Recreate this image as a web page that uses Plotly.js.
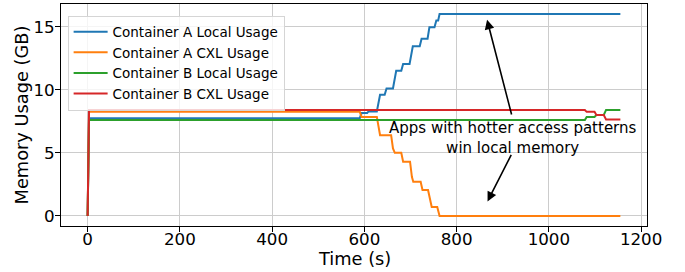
<!DOCTYPE html>
<html>
<head>
<meta charset="utf-8">
<script src="https://cdn.plot.ly/plotly-3.0.1.min.js"></script>
<style>html,body{margin:0;padding:0;background:#fff;}</style>
</head>
<body>
<div id="chart" style="width:685px;height:272px;"></div>
<script>
// Container A local usage (GB) vs time (s)
const tALocal = [0, 3, 590, 594, 606, 609, 627, 631, 634, 644, 648, 662, 666, 669, 680, 684, 698, 702, 705, 720, 724, 737, 741, 752, 756, 760, 763, 1155];
const vALocal = [0, 7.75, 7.75, 8.15, 8.15, 8.28, 8.28, 9.25, 9.6, 9.6, 10.1, 10.1, 11.1, 11.5, 11.5, 12.05, 12.05, 13.0, 13.45, 13.45, 14.05, 14.05, 14.95, 14.95, 15.5, 15.5, 16.0, 16.0];
// Container A CXL usage
const tACxl = [0, 3, 590, 594, 627, 631, 634, 658, 662, 666, 680, 684, 699, 703, 706, 722, 726, 738, 742, 746, 758, 763, 1155];
const vACxl = [0, 8.25, 8.25, 7.85, 7.85, 6.8, 6.4, 6.4, 5.35, 5.0, 5.0, 4.3, 4.3, 3.1, 2.7, 2.7, 2.05, 2.05, 1.25, 0.7, 0.7, 0.0, 0.0];
// Container B local usage
const tBLocal = [0, 3, 1078, 1082, 1099, 1103, 1119, 1124, 1155];
const vBLocal = [0, 7.6, 7.6, 7.85, 7.85, 8.0, 8.0, 8.4, 8.4];
// Container B CXL usage
const tBCxl = [0, 3, 1078, 1082, 1099, 1103, 1119, 1124, 1155];
const vBCxl = [0, 8.4, 8.4, 8.25, 8.25, 8.0, 8.0, 7.65, 7.65];

const seriesNames = ["Container A Local Usage", "Container A CXL Usage", "Container B Local Usage", "Container B CXL Usage"];
const seriesColors = ["#1f77b4", "#ff7f0e", "#2ca02c", "#d62728"];
const xTicks = [0, 200, 400, 600, 800, 1000, 1200];
const yTicks = [0, 5, 10, 15];
const xTitle = "Time (s)";
const yTitle = "Memory Usage (GB)";

const annText = "Apps with hotter access patterns<br>win local memory";
const annTextPos = [922, 6.2];
const arrowTips = [[866, 15.55], [867, 1.15]];
const arrowTails = [[920, 7.92], [920, 4.96]];

const FONT = "DejaVu Sans, Liberation Sans, sans-serif";
const xs = [tALocal, tACxl, tBLocal, tBCxl];
const ys = [vALocal, vACxl, vBLocal, vBCxl];

const data = xs.map((x, i) => ({
  x: x, y: ys[i], type: "scatter", mode: "lines",
  name: seriesNames[i],
  line: {color: seriesColors[i], width: 2}
}));

const annotations = [{
  x: annTextPos[0], y: annTextPos[1], xref: "x", yref: "y",
  text: annText, showarrow: false,
  font: {family: FONT, size: 15, color: "#000"},
  xanchor: "center", yanchor: "middle", align: "center"
}, {
  x: 0.5, y: -0.148, xref: "paper", yref: "paper",
  text: xTitle, showarrow: false,
  font: {family: FONT, size: 17.8, color: "#000"},
  xanchor: "center", yanchor: "middle"
}];
arrowTips.forEach((tip, i) => {
  annotations.push({
    x: tip[0], y: tip[1], xref: "x", yref: "y",
    ax: arrowTails[i][0], ay: arrowTails[i][1], axref: "x", ayref: "y",
    text: "", showarrow: true, arrowhead: 2, arrowsize: 1.2, arrowwidth: 1.6, arrowcolor: "#000"
  });
});

const layout = {
  width: 685, height: 272,
  margin: {l: 61, r: 38, t: 4, b: 46, pad: 0},
  paper_bgcolor: "#fff", plot_bgcolor: "#fff",
  font: {family: FONT, size: 16.7, color: "#000"},
  showlegend: true,
  legend: {
    x: 0.0113, y: 0.948, xanchor: "left", yanchor: "top",
    bgcolor: "rgba(255,255,255,0.8)", bordercolor: "#d5d5d5", borderwidth: 1,
    font: {family: FONT, size: 13.5, color: "#000"},
    itemwidth: 34,
    tracegroupgap: 0
  },
  xaxis: {
    range: [-57.75, 1212.75],
    tickvals: xTicks, ticktext: xTicks.map(String),
    showgrid: true, gridcolor: "#cccccc", gridwidth: 1,
    zeroline: false,
    showline: true, mirror: true, linecolor: "#000", linewidth: 1,
    ticks: "outside", ticklen: 5, tickcolor: "#000", tickwidth: 1,
    ticklabelstandoff: -7,
    tickfont: {family: FONT, size: 16.7, color: "#000"}
  },
  yaxis: {
    range: [-0.8, 16.8],
    tickvals: yTicks, ticktext: yTicks.map(String),
    showgrid: true, gridcolor: "#cccccc", gridwidth: 1,
    zeroline: false,
    showline: true, mirror: true, linecolor: "#000", linewidth: 1,
    ticks: "outside", ticklen: 5, tickcolor: "#000", tickwidth: 1,
    ticklabelstandoff: -3,
    tickfont: {family: FONT, size: 16.7, color: "#000"},
    title: {text: yTitle, font: {family: FONT, size: 17.8, color: "#000"}, standoff: 0}
  },
  annotations: annotations
};

Plotly.newPlot("chart", data, layout, {staticPlot: true, displayModeBar: false});
</script>
</body>
</html>
